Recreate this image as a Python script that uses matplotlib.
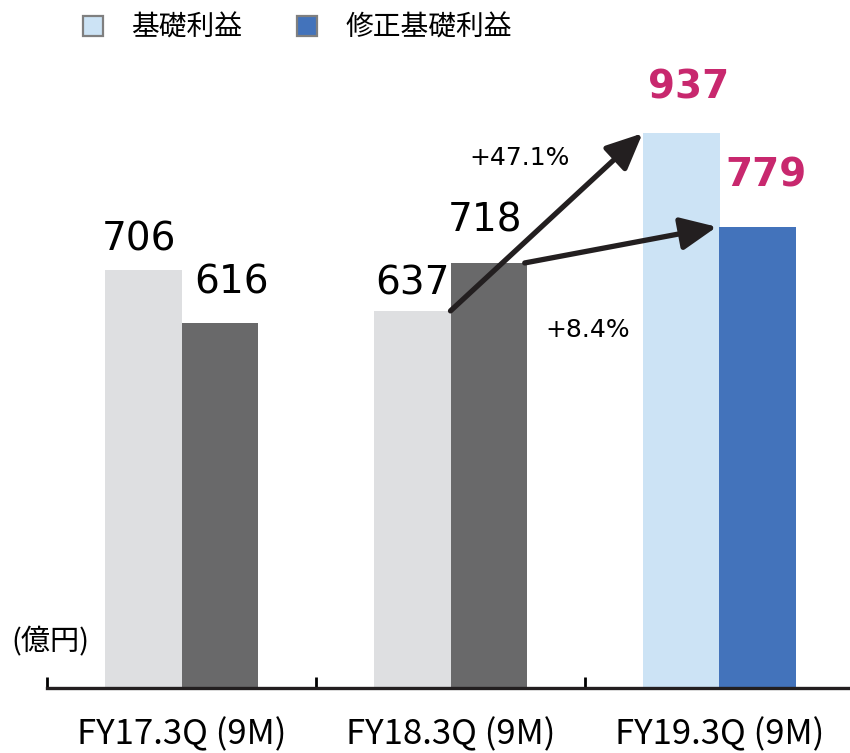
import matplotlib.pyplot as plt
import numpy as np
from matplotlib.patches import Patch

# data
categories = ['FY17.3Q (9M)', 'FY18.3Q (9M)', 'FY19.3Q (9M)']
basic_profit = [706, 637, 937]      # 基礎利益
adjusted_profit = [616, 718, 779]   # 修正基礎利益
series_names = ['基礎利益', '修正基礎利益']
growth_basic = '+47.1%'
growth_adjusted = '+8.4%'
unit_label = '(億円)'

cjk = ['Noto Sans CJK JP', 'DejaVu Sans']

basic_colors = ['#dedfe1', '#dedfe1', '#cce3f5']
adj_colors = ['#69696a', '#69696a', '#4373bb']
pink = '#c8286e'

# label nudges in pixels (dx, gap above bar top)
basic_off = [(-4, 20), (0, 16), (8, 35)]
adj_off = [(12, 30), (-4, 31), (8, 40)]

fig = plt.figure(figsize=(8.5, 7.53), dpi=100)
ax = fig.add_axes([47 / 850, 65 / 753, 807 / 850, 592 / 753])

x = np.arange(len(categories))
w = 0.286
ax.bar(x - w / 2, basic_profit, w, color=basic_colors, zorder=2)
ax.bar(x + w / 2, adjusted_profit, w, color=adj_colors, zorder=2)

# value labels
for i in range(len(categories)):
    last = i == len(categories) - 1
    kw = dict(ha='center', va='baseline', fontsize=28,
              color=pink if last else 'black',
              fontweight='bold' if last else 'normal',
              textcoords='offset pixels')
    ax.annotate(str(basic_profit[i]), (x[i] - w / 2, basic_profit[i]),
                xytext=basic_off[i], **kw)
    ax.annotate(str(adjusted_profit[i]), (x[i] + w / 2, adjusted_profit[i]),
                xytext=adj_off[i], **kw)

# growth arrows
aprops = dict(arrowstyle='-|>,head_length=1.1,head_width=0.5', lw=3.8,
              color='#231f20', shrinkA=0, shrinkB=0, mutation_scale=20)
ax.annotate('', xy=(x[2] - w, basic_profit[2]), xytext=(x[1], basic_profit[1]),
            arrowprops=aprops, zorder=4)
ax.annotate('', xy=(x[2] - 0.01, adjusted_profit[2]),
            xytext=(x[1] + w - 0.01, adjusted_profit[1]),
            arrowprops=aprops, zorder=4)
ax.text(1.255, 896, growth_basic, ha='center', va='center', fontsize=18)
ax.text(1.51, 605, growth_adjusted, ha='center', va='center', fontsize=18)

ax.set_xlim(-0.5, 2.5)
ax.set_ylim(0, 1000)
ax.set_xticks([-0.5, 0.5, 1.5])
ax.set_xticklabels([])
ax.set_xticks(x, minor=True)
ax.set_xticklabels(categories, minor=True, fontsize=25, family=cjk)
ax.tick_params(axis='x', which='major', direction='in', length=8, width=2)
ax.tick_params(axis='x', which='minor', length=0, pad=21)
ax.set_yticks([])
for s in ['top', 'right', 'left']:
    ax.spines[s].set_visible(False)
ax.spines['bottom'].set_linewidth(2.4)
ax.spines['bottom'].set_color('#231f20')

fig.text(11 / 850, 1 - 642 / 753, unit_label, fontsize=21, family=cjk,
         ha='left', va='center')

# legend
handles = [Patch(facecolor='#cce3f5', edgecolor='#7f7f7f', lw=1.6),
           Patch(facecolor='#4373bb', edgecolor='#7f7f7f', lw=1.6)]
fig.legend(handles, series_names, loc='center left',
           bbox_to_anchor=(83 / 850, 1 - 28 / 753), ncol=2, frameon=False,
           prop={'family': cjk, 'size': 20}, handlelength=0.72,
           handleheight=0.72, handletextpad=1.0, columnspacing=2.0,
           borderpad=0, borderaxespad=0)

fig.savefig('out.png', dpi=100)
